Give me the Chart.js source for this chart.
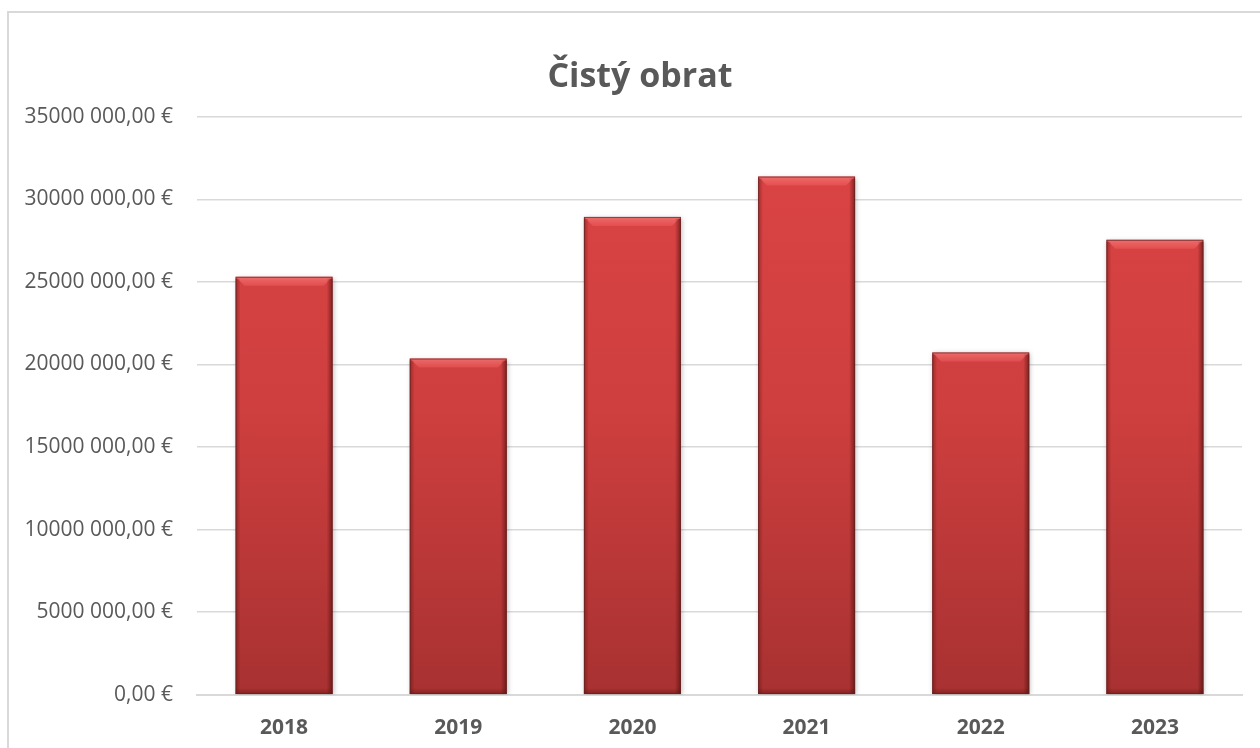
<!DOCTYPE html>
<html>
<head>
<meta charset="utf-8">
<script src="https://cdn.jsdelivr.net/npm/chart.js@4/dist/chart.umd.min.js"></script>
<style>
  html, body { margin: 0; padding: 0; background: #fff; overflow: hidden; }
  #frame {
    position: absolute; left: 7px; top: 11px;
    width: 1266px; height: 764px;
    border: 2px solid #d9d9d9; box-sizing: border-box;
  }
  #frame canvas { position: absolute; left: 0; top: 0; }
</style>
</head>
<body>
<div id="frame"><canvas id="myChart" width="1262" height="760"></canvas></div>
<script>
var years = ["2018", "2019", "2020", "2021", "2022", "2023"];
var turnover = [25310000, 20360000, 28940000, 31380000, 20730000, 27550000];
var yMax = 35000000;
var yStep = 5000000;

function euro(v) {
    if (v === 0) return "0,00 €";
    var hi = Math.floor(v / 1000);
    var lo = String(v % 1000).padStart(3, "0");
    return hi + " " + lo + ",00 €";
}

function barFill(context) {
    var chart = context.chart;
    var area = chart.chartArea;
    if (!area) return "#c83c3c";
    var g = chart.ctx.createLinearGradient(0, area.top, 0, area.bottom);
    g.addColorStop(0, "#dc4444");
    g.addColorStop(0.5, "#cf3f3f");
    g.addColorStop(1, "#a83131");
    return g;
}

// title centred on the whole frame, not only on the padded area
var centreTitle = {
    id: "centreTitle",
    afterLayout: function(chart) {
        if (chart.titleBlock) {
            chart.titleBlock.left = 0;
            chart.titleBlock.right = chart.width;
            chart.titleBlock.width = chart.width;
        }
    }
};

// soft shadow + bevel on each bar, using the positions chart.js computed
var bevel = {
    id: "bevel",
    beforeDatasetsDraw: function(chart) {
        var ctx = chart.ctx;
        ctx.save();
        ctx.shadowColor = "rgba(0,0,0,0.3)";
        ctx.shadowBlur = 5;
        ctx.shadowOffsetX = 1;
        ctx.shadowOffsetY = 1;
    },
    afterDatasetsDraw: function(chart) {
        var ctx = chart.ctx;
        ctx.restore();
        var bars = chart.getDatasetMeta(0).data;
        ctx.save();
        bars.forEach(function(b) {
            var l = b.x - b.width / 2, r = b.x + b.width / 2, t = b.y, bt = b.base;
            var d = 9;
            // top light bevel
            var gt = ctx.createLinearGradient(0, t, 0, t + d);
            gt.addColorStop(0, "rgba(255,140,140,0.6)");
            gt.addColorStop(1, "rgba(255,110,110,0.3)");
            ctx.fillStyle = gt;
            ctx.beginPath();
            ctx.moveTo(l, t); ctx.lineTo(r, t); ctx.lineTo(r - d, t + d); ctx.lineTo(l + d, t + d);
            ctx.closePath(); ctx.fill();
            // side edges
            var gl = ctx.createLinearGradient(l, 0, l + 5, 0);
            gl.addColorStop(0, "rgba(90,15,15,0.45)");
            gl.addColorStop(1, "rgba(90,15,15,0)");
            ctx.fillStyle = gl;
            ctx.fillRect(l, t + 2, 5, bt - t - 2);
            var gr = ctx.createLinearGradient(r, 0, r - 6, 0);
            gr.addColorStop(0, "rgba(70,10,10,0.6)");
            gr.addColorStop(1, "rgba(70,10,10,0)");
            ctx.fillStyle = gr;
            ctx.fillRect(r - 6, t + 2, 6, bt - t - 2);
            // bottom bevel
            var gb = ctx.createLinearGradient(0, bt, 0, bt - 6);
            gb.addColorStop(0, "rgba(80,10,10,0.4)");
            gb.addColorStop(1, "rgba(80,10,10,0)");
            ctx.fillStyle = gb;
            ctx.fillRect(l, bt - 6, b.width, 6);
            ctx.strokeStyle = "rgba(100,35,35,0.7)";
            ctx.lineWidth = 1;
            ctx.strokeRect(l + 0.5, t + 0.5, b.width - 1, bt - t - 1);
        });
        ctx.restore();
    }
};

var ctx = document.getElementById("myChart");

var myChart = new Chart(ctx, {
    type: "bar",
    data: {
        labels: years,
        datasets: [{
            label: "Čistý obrat",
            data: turnover,
            backgroundColor: barFill,
            borderWidth: 0,
            categoryPercentage: 1,
            barPercentage: 0.557
        }]
    },
    plugins: [bevel, centreTitle],
    options: {
        responsive: false,
        animation: false,
        layout: { padding: { left: 10, right: 29, top: 0, bottom: 11 } },
        plugins: {
            legend: { display: false },
            tooltip: { enabled: false },
            title: {
                display: true,
                text: "Čistý obrat",
                color: "#595959",
                font: { family: "'Open Sans', sans-serif", size: 34, weight: "bold" },
                padding: { top: 44, bottom: 19 }
            }
        },
        scales: {
            x: {
                grid: { display: false, drawTicks: false },
                border: { display: true, color: "#d9d9d9", width: 2 },
                ticks: {
                    color: "#595959",
                    padding: 21,
                    font: { family: "'Open Sans', sans-serif", size: 21, weight: "bold" }
                }
            },
            y: {
                min: 0,
                max: yMax,
                afterFit: function(scale) { scale.width = 178; },
                grid: { color: "#d9d9d9", lineWidth: 1.5, drawTicks: false },
                border: { display: false },
                ticks: {
                    stepSize: yStep,
                    color: "#595959",
                    padding: 24,
                    font: { family: "'Open Sans', sans-serif", size: 21 },
                    callback: function(v) { return euro(v); }
                }
            }
        }
    }
});
</script>
</body>
</html>
